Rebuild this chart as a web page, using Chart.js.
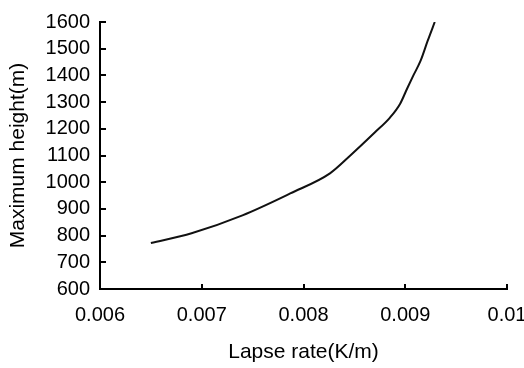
<!DOCTYPE html>
<html>
<head>
<meta charset="utf-8">
<script src="https://cdn.jsdelivr.net/npm/chart.js@4/dist/chart.umd.min.js"></script>
<style>
  html, body { margin: 0; padding: 0; background: #fff; }
  #wrap { width: 524px; height: 368px; position: relative; }
</style>
</head>
<body>
<div id="wrap"><canvas id="chart"></canvas></div>
<script>
// lapse rate (K/m) vs maximum height (m)
const lapseRate = [0.0065, 0.0069, 0.0074, 0.00787, 0.00826, 0.00846, 0.0087, 0.00885, 0.00895, 0.00902, 0.00908, 0.00915, 0.00922, 0.00929];
const maxHeight = [772, 809, 876, 958, 1033, 1100, 1186, 1242, 1294, 1352, 1400, 1454, 1529, 1600];
const xTicks = [0.006, 0.007, 0.008, 0.009, 0.01];
const yTicks = [600, 700, 800, 900, 1000, 1100, 1200, 1300, 1400, 1500, 1600];

const FONT = "'Liberation Sans', Arial, sans-serif";

// small ticks pointing into the plot, like the original
const innerTicks = {
    id: 'innerTicks',
    afterDraw(chart) {
        const { ctx, scales: { x, y } } = chart;
        ctx.save();
        ctx.strokeStyle = '#000';
        ctx.lineWidth = 2;
        ctx.beginPath();
        xTicks.forEach(v => {
            const px = Math.round(x.getPixelForValue(v));
            ctx.moveTo(px, y.bottom);
            ctx.lineTo(px, y.bottom - 5);
        });
        yTicks.forEach(v => {
            const py = Math.round(y.getPixelForValue(v));
            ctx.moveTo(x.left, py);
            ctx.lineTo(x.left + 6, py);
        });
        ctx.stroke();
        ctx.restore();
    }
};

new Chart(document.getElementById('chart'), {
    type: 'scatter',
    data: {
        datasets: [{
            data: lapseRate.map((v, i) => ({ x: v, y: maxHeight[i] })),
            showLine: true,
            borderColor: '#111',
            borderWidth: 2,
            pointRadius: 0,
            cubicInterpolationMode: 'monotone',
            fill: false
        }]
    },
    options: {
        responsive: true,
        maintainAspectRatio: false,
        animation: false,
        layout: { padding: { top: 20, right: 0, left: 0, bottom: 0 } },
        plugins: { legend: { display: false }, tooltip: { enabled: false } },
        scales: {
            x: {
                type: 'linear',
                min: 0.006,
                max: 0.01,
                afterBuildTicks: s => { s.ticks = xTicks.map(v => ({ value: v })); },
                afterFit: s => {
                    s.height = 79;
                    s.paddingLeft = 0;
                    s.paddingRight = 17;
                },
                grid: { display: true, drawOnChartArea: false, drawTicks: false },
                border: { color: '#000', width: 2 },
                ticks: {
                    padding: 14,
                    color: '#000',
                    font: { family: FONT, size: 20 },
                    maxRotation: 0,
                    autoSkip: false,
                    callback: v => String(Number(v.toFixed(3)))
                },
                title: {
                    display: true,
                    text: 'Lapse rate(K/m)',
                    color: '#000',
                    font: { family: FONT, size: 21 },
                    padding: { top: 0, bottom: 3 }
                }
            },
            y: {
                min: 600,
                max: 1600,
                afterBuildTicks: s => { s.ticks = yTicks.map(v => ({ value: v })); },
                afterFit: s => { s.width = 100; },
                grid: { display: true, drawOnChartArea: false, drawTicks: false },
                border: { color: '#000', width: 2 },
                ticks: {
                    padding: 10,
                    color: '#000',
                    font: { family: FONT, size: 20 },
                    autoSkip: false,
                    callback: v => String(v)
                },
                title: {
                    display: true,
                    text: 'Maximum height(m)',
                    color: '#000',
                    font: { family: FONT, size: 21 },
                    padding: { top: 6, bottom: 0 }
                }
            }
        }
    },
    plugins: [innerTicks]
});
</script>
</body>
</html>
